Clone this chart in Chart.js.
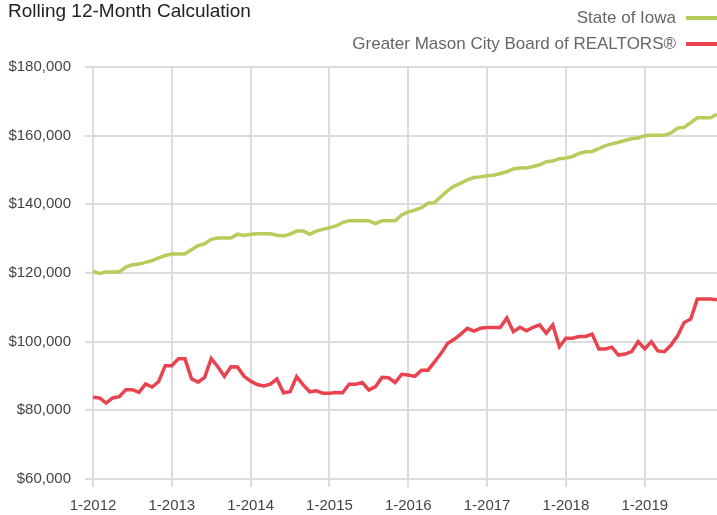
<!DOCTYPE html>
<html>
<head>
<meta charset="utf-8">
<script src="https://cdn.jsdelivr.net/npm/chart.js@4.4.0/dist/chart.umd.min.js"></script>
<style>
  html, body { margin: 0; padding: 0; background: #fff; }
  #wrap { width: 717px; height: 515px; }
</style>
</head>
<body>
<div id="wrap"><canvas id="rolling"></canvas></div>
<script>
let chartTitle = 'Rolling 12-Month Calculation'
let years = [2012, 2013, 2014, 2015, 2016, 2017, 2018, 2019]
let seriesNames = ['State of Iowa', 'Greater Mason City Board of REALTORS®']
let seriesColors = ['#b5cd5b', '#e8434f']

// month labels like "1-2012" ... "12-2019"
let months = []
years.forEach(y => { for (let m = 1; m <= 12; m++) months.push(m + '-' + y) })

let iowa = [
  120500, 119900, 120300, 120300, 120300, 121700, 122400, 122600, 123100, 123600, 124400, 125100,
  125500, 125500, 125600, 126800, 128000, 128500, 129800, 130200, 130200, 130200, 131300, 130900,
  131300, 131400, 131400, 131400, 131000, 130800, 131300, 132200, 132200, 131300, 132200, 132700,
  133200, 133700, 134700, 135200, 135200, 135200, 135200, 134400, 135200, 135200, 135200, 136900,
  137800, 138300, 139000, 140300, 140500, 142300, 144000, 145300, 146200, 147100, 147800, 148000,
  148300, 148500, 149000, 149500, 150300, 150600, 150600, 151000, 151500, 152400, 152600, 153300,
  153500, 153900, 154800, 155300, 155400, 156200, 157100, 157600, 158100, 158600, 159100, 159300,
  160000, 160100, 160100, 160100, 160800, 162200, 162400, 163800, 165200, 165200, 165200, 166200
]
let masonCity = [
  83800, 83600, 82100, 83600, 84000, 86000, 86000, 85200, 87700, 86800, 88400, 93000,
  93000, 95000, 95000, 89200, 88200, 89600, 95100, 92700, 89900, 92700, 92600, 89900,
  88500, 87500, 87100, 87600, 89100, 85100, 85400, 89800, 87400, 85400, 85700, 85000,
  85000, 85200, 85100, 87600, 87600, 88100, 85900, 86900, 89600, 89500, 88100, 90500,
  90300, 89900, 91700, 91700, 94100, 96600, 99500, 100700, 102200, 103900, 103100, 103900,
  104100, 104100, 104100, 106900, 102900, 104200, 103200, 104200, 104900, 102500, 104900, 98500,
  101000, 101000, 101500, 101500, 102200, 97900, 97900, 98400, 96100, 96400, 97100, 100000,
  97900, 100000, 97300, 97100, 99000, 101700, 105600, 106600, 112400, 112400, 112400, 112200
]

let gridGray = '#dcdcdc'
let yearLine = c => (c.index % 12 === 0 ? gridGray : 'rgba(0,0,0,0)')
let tickFont = { family: '"Liberation Sans", Arial, sans-serif', size: 15 }

// title + two-line legend with the swatch on the right
let headerPlugin = {
  id: 'header',
  afterDraw(chart) {
    let ctx = chart.ctx
    ctx.save()
    ctx.textBaseline = 'middle'
    ctx.fillStyle = '#222'
    ctx.font = '19px "Liberation Sans", Arial, sans-serif'
    ctx.textAlign = 'left'
    ctx.fillText(chartTitle, 8, 12)

    ctx.font = '17px "Liberation Sans", Arial, sans-serif'
    ctx.textAlign = 'right'
    let rows = [18, 44]
    chart.data.datasets.forEach((ds, i) => {
      ctx.fillStyle = '#666'
      ctx.fillText(ds.label, 676, rows[i])
      ctx.strokeStyle = ds.borderColor
      ctx.lineWidth = 4
      ctx.beginPath()
      ctx.moveTo(686, rows[i])
      ctx.lineTo(717, rows[i])
      ctx.stroke()
    })
    ctx.restore()
  }
}

let ctx = document.getElementById('rolling').getContext('2d')
let rollingChart = new Chart(ctx, {
  type: 'line',
  data: {
    labels: months,
    datasets: [{
      label: seriesNames[0],
      data: iowa,
      borderColor: seriesColors[0],
      borderWidth: 3.5,
      pointRadius: 0,
      tension: 0
    }, {
      label: seriesNames[1],
      data: masonCity,
      borderColor: seriesColors[1],
      borderWidth: 3.5,
      pointRadius: 0,
      tension: 0
    }]
  },
  options: {
    responsive: true,
    maintainAspectRatio: false,
    animation: false,
    layout: { padding: { top: 67, left: 8, right: 0, bottom: 0 } },
    plugins: {
      legend: { display: false },
      title: { display: false },
      tooltip: { enabled: false }
    },
    scales: {
      x: {
        offset: false,
        border: { display: false },
        grid: { color: yearLine, tickColor: yearLine, lineWidth: 2, tickLength: 8 },
        ticks: {
          autoSkip: false,
          maxRotation: 0,
          minRotation: 0,
          padding: 10,
          color: '#444',
          font: tickFont,
          callback: function (v, i) { return i % 12 === 0 ? this.getLabelForValue(v) : '' }
        },
        // chart.js doubles tick padding and pads the right end; pin it
        afterFit: s => { s.paddingRight = 0; s.height = 36 }
      },
      y: {
        min: 60000,
        max: 180000,
        border: { display: false },
        grid: { color: gridGray, lineWidth: 2, tickLength: 8 },
        ticks: {
          stepSize: 20000,
          padding: 14,
          color: '#444',
          font: tickFont,
          callback: v => '$' + v.toLocaleString('en-US')
        },
        afterFit: s => { s.width = 85 }
      }
    }
  },
  plugins: [headerPlugin]
})
</script>
</body>
</html>
